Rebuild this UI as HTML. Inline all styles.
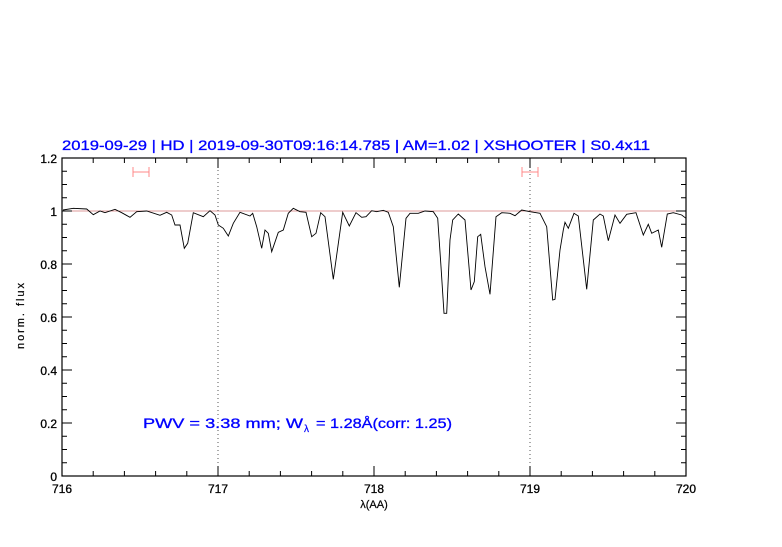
<!DOCTYPE html>
<html><head><meta charset="utf-8"><style>
body{margin:0;background:#fff}
svg text{font-family:"Liberation Sans","DejaVu Sans",sans-serif}
</style></head><body>
<svg width="782" height="542" viewBox="0 0 782 542" xmlns="http://www.w3.org/2000/svg">
<rect width="782" height="542" fill="#fff"/>
<text x="62" y="150" font-size="14" fill="#0000ff" stroke="#0000ff" stroke-width="0.3" textLength="588" lengthAdjust="spacingAndGlyphs">2019-09-29 | HD | 2019-09-30T09:16:14.785 | AM=1.02 | XSHOOTER | S0.4x11</text>
<line x1="62" y1="211" x2="686" y2="211" stroke="#d99" stroke-width="1"/>
<line x1="218" y1="158" x2="218" y2="476" stroke="#555" stroke-dasharray="1,3" stroke-width="1"/>
<line x1="530" y1="158" x2="530" y2="476" stroke="#555" stroke-dasharray="1,3" stroke-width="1"/>
<g stroke="#f88" stroke-width="1" fill="none">
<path d="M133 172H149M133 167V177M149 167V177"/>
<path d="M522 172H538M522 167V177M538 167V177"/>
</g>
<polyline fill="none" stroke="#000" stroke-width="0.9" points="63,210 73.3,208.3 86.7,209 93.3,214.7 100,211 105,212.7 115,209.3 121.7,212.7 130,217.3 136.7,211.7 146.7,211 160,215.3 166.7,212.3 171.7,215 175,225 180,225 184.3,248.3 187.7,243.3 193.3,212.7 203.3,216.7 210,210.7 215,215 218.3,225 223.3,228.3 228.3,236 233.3,223.3 240,212.3 250,216 252.7,213.3 256.7,226.7 261.7,248.3 265,230 268.3,233.3 271.7,251.7 278.3,232.3 283.3,230 288.3,213.3 293.3,208.3 300,211.7 306,212.3 311.7,236.7 316,233.3 320.7,212.7 325,216.7 333.3,279.3 342.7,212.3 349.3,226 356,212.7 361.7,217.3 366,216.7 371.7,210.7 376.7,211.7 383.3,210.3 388.3,212.3 393.3,226.7 399.3,287.3 406,218.3 410,213.3 418.3,213.3 425,211 433.3,211.7 437.7,218.3 441,266.7 444,313.3 446.7,313.3 450,240 452.7,220 458.3,214 465,220 471,290 474.3,281.7 477.7,236.7 480.7,234.3 485,266.7 490,294.3 496,216.7 501.7,212.7 510,213.3 515,215.7 521.7,210 530,211.7 540,213.3 546.7,226.7 552.7,300 555,299.3 560,250 563.3,230 565,222.3 568.3,228.3 574,213.3 578.3,216 586.7,289.3 593.3,220 600,214 603.3,216 608.3,240.7 615,215 620,223.3 626.7,214.3 636,212.7 643.3,235 648.3,224.3 651.7,233.3 658.3,230 661.7,247.3 667.3,214 673.3,212.7 681.7,215 686,218.3"/>
<rect x="62" y="158" width="624" height="318" fill="none" stroke="#000" stroke-width="1.2"/>
<g stroke="#000" stroke-width="1">
<path d="M62 476h10M62 423h10M62 370h10M62 317h10M62 264h10M62 211h10M62 158h10M686 476h-10M686 423h-10M686 370h-10M686 317h-10M686 264h-10M686 211h-10M686 158h-10"/>
<path d="M62 462.75h5M62 449.5h5M62 436.25h5M62 409.75h5M62 396.5h5M62 383.25h5M62 356.75h5M62 343.5h5M62 330.25h5M62 303.75h5M62 290.5h5M62 277.25h5M62 250.75h5M62 237.5h5M62 224.25h5M62 197.75h5M62 184.5h5M62 171.25h5"/>
<path d="M686 462.75h-5M686 449.5h-5M686 436.25h-5M686 409.75h-5M686 396.5h-5M686 383.25h-5M686 356.75h-5M686 343.5h-5M686 330.25h-5M686 303.75h-5M686 290.5h-5M686 277.25h-5M686 250.75h-5M686 237.5h-5M686 224.25h-5M686 197.75h-5M686 184.5h-5M686 171.25h-5"/>
<path d="M218 476v-10M374 476v-10M530 476v-10M218 158v10M374 158v10M530 158v10"/>
<path d="M93.2 476v-5M124.4 476v-5M155.6 476v-5M186.8 476v-5M249.2 476v-5M280.4 476v-5M311.6 476v-5M342.8 476v-5M405.2 476v-5M436.4 476v-5M467.6 476v-5M498.8 476v-5M561.2 476v-5M592.4 476v-5M623.6 476v-5M654.8 476v-5"/>
<path d="M93.2 158v5M124.4 158v5M155.6 158v5M186.8 158v5M249.2 158v5M280.4 158v5M311.6 158v5M342.8 158v5M405.2 158v5M436.4 158v5M467.6 158v5M498.8 158v5M561.2 158v5M592.4 158v5M623.6 158v5M654.8 158v5"/>
</g>
<g font-size="12" fill="#000" stroke="#000" stroke-width="0.3" text-anchor="end">
<text x="57" y="481">0</text><text x="57" y="428">0.2</text><text x="57" y="375">0.4</text><text x="57" y="322">0.6</text><text x="57" y="269">0.8</text><text x="57" y="216">1</text><text x="57" y="163">1.2</text>
</g>
<g font-size="12" fill="#000" stroke="#000" stroke-width="0.3" text-anchor="middle">
<text x="62" y="493">716</text><text x="218" y="493">717</text><text x="374" y="493">718</text><text x="530" y="493">719</text><text x="686" y="493">720</text>
<text x="374" y="508" font-size="11" stroke-width="0.2">λ(AA)</text>
</g>
<text transform="translate(24,316) rotate(-90)" font-size="11" text-anchor="middle" fill="#000" stroke="#000" stroke-width="0.2" textLength="66">norm. flux</text>
<g font-size="14" fill="#0000ff" stroke="#0000ff" stroke-width="0.3">
<text x="143" y="428" textLength="160" lengthAdjust="spacingAndGlyphs">PWV = 3.38 mm; W</text>
<text x="304" y="432" font-size="10" stroke-width="0.2">λ</text>
<text x="316" y="428" textLength="136" lengthAdjust="spacingAndGlyphs">= 1.28Å(corr: 1.25)</text>
</g>
</svg>
</body></html>
